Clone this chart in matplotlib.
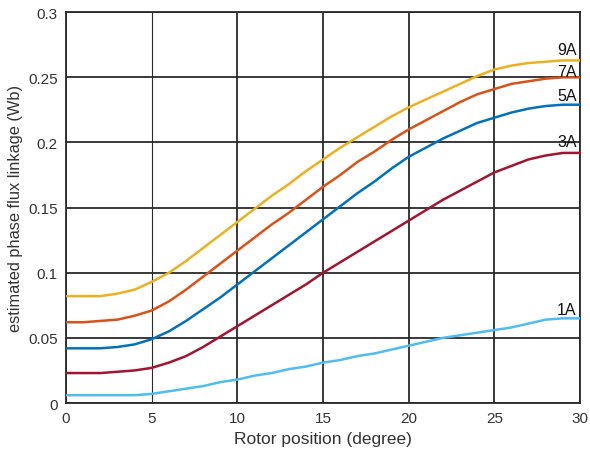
import matplotlib
matplotlib.use("Agg")
import matplotlib.pyplot as plt
import numpy as np

plt.rcParams['font.family'] = ['Liberation Sans', 'DejaVu Sans']

# rotor position, degree
pos = list(range(0, 31))

flux_9a = [0.082, 0.082, 0.082, 0.084, 0.087, 0.093, 0.100, 0.109, 0.119, 0.129,
           0.139, 0.149, 0.159, 0.168, 0.178, 0.187, 0.196, 0.204, 0.212, 0.220,
           0.227, 0.233, 0.239, 0.245, 0.251, 0.256, 0.259, 0.261, 0.262, 0.263, 0.263]
flux_7a = [0.062, 0.062, 0.063, 0.064, 0.067, 0.071, 0.078, 0.087, 0.097, 0.107,
           0.117, 0.127, 0.137, 0.146, 0.156, 0.166, 0.175, 0.185, 0.193, 0.202,
           0.210, 0.217, 0.224, 0.231, 0.237, 0.241, 0.245, 0.247, 0.249, 0.250, 0.250]
flux_5a = [0.042, 0.042, 0.042, 0.043, 0.045, 0.049, 0.055, 0.063, 0.072, 0.081,
           0.091, 0.101, 0.111, 0.121, 0.131, 0.141, 0.151, 0.161, 0.170, 0.180,
           0.189, 0.196, 0.203, 0.209, 0.215, 0.219, 0.223, 0.226, 0.228, 0.229, 0.229]
flux_3a = [0.023, 0.023, 0.023, 0.024, 0.025, 0.027, 0.031, 0.036, 0.043, 0.051,
           0.059, 0.067, 0.075, 0.083, 0.091, 0.100, 0.108, 0.116, 0.124, 0.132,
           0.140, 0.148, 0.156, 0.163, 0.170, 0.177, 0.182, 0.187, 0.190, 0.192, 0.192]
flux_1a = [0.006, 0.006, 0.006, 0.006, 0.006, 0.007, 0.009, 0.011, 0.013, 0.016,
           0.018, 0.021, 0.023, 0.026, 0.028, 0.031, 0.033, 0.036, 0.038, 0.041,
           0.044, 0.047, 0.050, 0.052, 0.054, 0.056, 0.058, 0.061, 0.064, 0.065, 0.065]

labels = ["9A", "7A", "5A", "3A", "1A"]

fig = plt.figure(figsize=(5.9, 4.56), dpi=100)
ax = fig.add_axes([0.112, 0.114, 0.871, 0.857])

series = [(flux_9a, "#EDB120", 0.266),
          (flux_7a, "#D95319", 0.249),
          (flux_5a, "#0072BD", 0.230),
          (flux_3a, "#A2142F", 0.195),
          (flux_1a, "#4DBEEE", 0.066)]

for (vals, col, ty), lab in zip(series, labels):
    ax.plot(pos, vals, '-', color=col, lw=1.8, zorder=3)
    ax.text(29.8, ty, lab, ha='right', va='bottom', fontsize=11.5,
            color="#111111", zorder=4)

ax.set_xlim(0, 30)
ax.set_ylim(0, 0.3)
ax.set_xticks([0, 5, 10, 15, 20, 25, 30])
ax.set_yticks([0, 0.05, 0.1, 0.15, 0.2, 0.25, 0.3])
ax.set_yticklabels(["0", "0.05", "0.1", "0.15", "0.2", "0.25", "0.3"])
ax.grid(True, color="#2a2a2a", lw=1.3)
ax.get_xgridlines()[1].set_linewidth(0.8)  # the 5 deg line is drawn thinner
ax.tick_params(length=0, labelsize=11, colors="#333333", pad=6)
for s in ax.spines.values():
    s.set_color("#2a2a2a")
    s.set_linewidth(1.3)

ax.set_xlabel("Rotor position (degree)", fontsize=12.5, color="#333333", labelpad=4)
ax.set_ylabel("estimated phase flux linkage (Wb)", fontsize=11.8, color="#333333", labelpad=4)

plt.savefig("out.png", dpi=100)
